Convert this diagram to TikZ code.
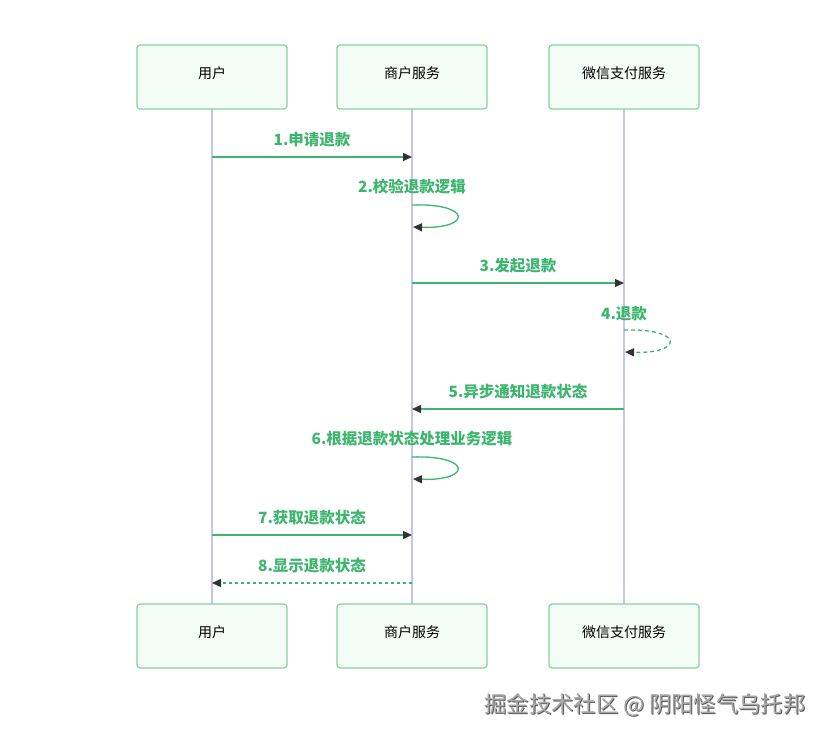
\documentclass[tikz,border=0pt]{standalone}
\usepackage{fontspec}
\setmainfont{Noto Sans CJK SC}
\usetikzlibrary{arrows.meta}
\definecolor{boxline}{HTML}{86D1A0}
\definecolor{boxfill}{HTML}{F4FCF6}
\definecolor{lifeln}{HTML}{C9C5E4}
\definecolor{msggreen}{HTML}{3DB56E}
\definecolor{tipdark}{HTML}{333333}
\definecolor{wmgray}{HTML}{A8A8A8}
\definecolor{wmshadow}{HTML}{5A5A5A}
\tikzset{
  actor/.style={draw=boxline, line width=1.2pt, fill=boxfill, rounded corners=3pt,
    minimum width=150pt, minimum height=64pt, inner sep=0pt, text height=9pt, text depth=6pt,
    font=\fontsize{14}{16}\selectfont},
  lifeline/.style={draw=lifeln, line width=1.2pt},
  msg/.style={draw=msggreen, line width=1.3pt, -{Triangle[length=9pt,width=8pt,fill=tipdark,color=tipdark]}},
  msgdash/.style={msg, dash pattern=on 4pt off 3pt},
  msgdot/.style={msg, dash pattern=on 3pt off 3pt},
  lbl/.style={text=msggreen, font=\fontsize{15.5}{17}\selectfont\bfseries, inner sep=0pt},
  wmark/.style={font=\fontsize{22.3}{24}\selectfont, inner sep=0pt},
}
\begin{document}
\begin{tikzpicture}[x=1pt,y=-1pt]
\useasboundingbox (0,0) rectangle (827,738);
% lifelines first
\coordinate (uT) at (212,109); \coordinate (uB) at (212,604);
\coordinate (mT) at (412,109); \coordinate (mB) at (412,604);
\coordinate (wT) at (624,109); \coordinate (wB) at (624,604);
\draw[lifeline] (uT) -- (uB);
\draw[lifeline] (mT) -- (mB);
\draw[lifeline] (wT) -- (wB);
% actors
\node[actor] (user) at (212,77) {用户};
\node[actor] (merch) at (412,77) {商户服务};
\node[actor] (wx) at (624,77) {微信支付服务};
\node[actor] (user2) at (212,636) {用户};
\node[actor] (merch2) at (412,636) {商户服务};
\node[actor] (wx2) at (624,636) {微信支付服务};
% message 1
\coordinate (u1) at (212,157); \coordinate (m1) at (412,157);
\node[lbl] (l1) at (312,140) {1.申请退款};
\draw[msg] (u1) -- (m1);
% message 2 (self)
\coordinate (m2a) at (412,205); \coordinate (m2b) at (413,227);
\node[lbl] (l2) at (412,187) {2.校验退款逻辑};
\draw[msg] (m2a) .. controls (472,203) and (472,229) .. (m2b);
% message 3
\coordinate (m3) at (412,283); \coordinate (w3) at (624,283);
\node[lbl] (l3) at (518,266) {3.发起退款};
\draw[msg] (m3) -- (w3);
% message 4 (self, dashed)
\coordinate (w4a) at (624,330); \coordinate (w4b) at (625,352);
\node[lbl] (l4) at (624,314) {4.退款};
\draw[msgdash] (w4a) .. controls (684,328) and (684,354) .. (w4b);
% message 5
\coordinate (w5) at (624,409); \coordinate (m5) at (412,409);
\node[lbl] (l5) at (518,392) {5.异步通知退款状态};
\draw[msg] (w5) -- (m5);
% message 6 (self)
\coordinate (m6a) at (412,457); \coordinate (m6b) at (413,479);
\node[lbl] (l6) at (412,439) {6.根据退款状态处理业务逻辑};
\draw[msg] (m6a) .. controls (472,455) and (472,481) .. (m6b);
% message 7
\coordinate (u7) at (212,535); \coordinate (m7) at (412,535);
\node[lbl] (l7) at (312,518) {7.获取退款状态};
\draw[msg] (u7) -- (m7);
% message 8
\coordinate (m8) at (412,583); \coordinate (u8) at (212,583);
\node[lbl] (l8) at (312,566) {8.显示退款状态};
\draw[msgdot] (m8) -- (u8);
% watermark
\node[wmark, text=wmshadow] (wms) at (646,706) {掘金技术社区 @ 阴阳怪气乌托邦};
\node[wmark, text=wmgray] (wm) at (645,705) {掘金技术社区 @ 阴阳怪气乌托邦};
\end{tikzpicture}
\end{document}
